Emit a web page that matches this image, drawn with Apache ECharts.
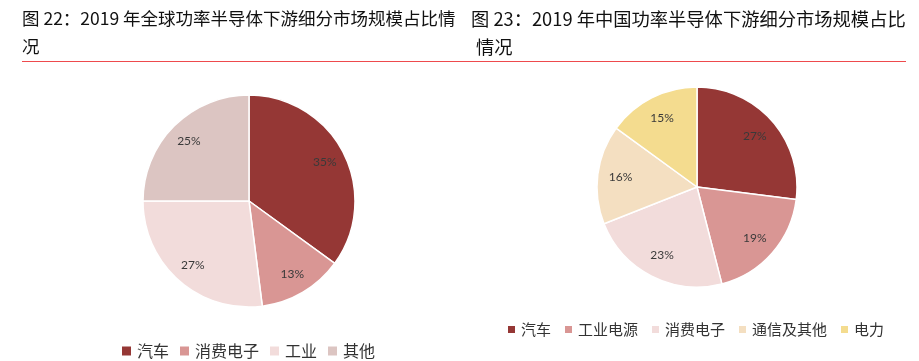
<!DOCTYPE html>
<html><head><meta charset="utf-8">
<script src="https://cdn.jsdelivr.net/npm/echarts@6/dist/echarts.min.js"></script>
<style>html,body{margin:0;padding:0;background:#fff}#c{width:919px;height:361px}</style>
</head><body><div id="c"></div>
<script>
const globalCategories = ['汽车', '消费电子', '工业', '其他'];
const globalValues = [35, 13, 27, 25];
const globalColors = ['#953735', '#d99694', '#f2dcdb', '#dcc5c2'];
const chinaCategories = ['汽车', '工业电源', '消费电子', '通信及其他', '电力'];
const chinaValues = [27, 19, 23, 16, 15];
const chinaColors = ['#953735', '#d99694', '#f2dcdb', '#f4dfc1', '#f4dc8f'];
const title1 = ['图 22：2019 年全球功率半导体下游细分市场规模占比情', '况'];
const title2 = ['图 23：2019 年中国功率半导体下游细分市场规模占比', '情况'];

const FONT = '"Noto Sans CJK SC", sans-serif';
const LFONT = 'Lato, "Open Sans", sans-serif';
const chart = echarts.init(document.getElementById('c'));
function mk(cats, vals, cols) {
  return cats.map((n, i) => ({ name: n, value: vals[i], itemStyle: { color: cols[i] } }));
}
function legendData(cats, cols) {
  return cats.map((n, i) => ({ name: n, itemStyle: { color: cols[i] } }));
}
function piePair(cats, vals, cols, center, r, inner) {
  return [
    { type: 'pie', center: center, radius: [0, r], startAngle: 90, clockwise: true,
      data: mk(cats, vals, cols),
      itemStyle: { borderColor: '#fff', borderWidth: 1.5 },
      label: { show: false }, labelLine: { show: false }, emphasis: { disabled: true } },
    { type: 'pie', center: center, radius: [inner, r], startAngle: 90, clockwise: true,
      data: cats.map((n, i) => ({ name: n + ' ', value: vals[i] })),
      itemStyle: { color: 'rgba(0,0,0,0)' }, silent: true,
      label: { position: 'inside', formatter: '{c}%', fontFamily: LFONT, fontSize: 12, color: '#3a3a3a' },
      labelLine: { show: false }, emphasis: { disabled: true } }
  ];
}
function ts(size) { return { fontFamily: FONT, fontSize: size, fill: '#111', fontWeight: 'normal' }; }
chart.setOption({
  animation: false,
  graphic: [
    { type: 'text', left: 22, top: 10, style: Object.assign({ text: title1[0] }, ts(17.5)) },
    { type: 'text', left: 22, top: 38, style: Object.assign({ text: title1[1] }, ts(17.5)) },
    { type: 'text', left: 471, top: 10, style: Object.assign({ text: title2[0] }, ts(18.3)) },
    { type: 'text', left: 476, top: 38, style: Object.assign({ text: title2[1] }, ts(18.3)) },
    { type: 'line', shape: { x1: 22, y1: 61.5, x2: 906, y2: 61.5 }, style: { stroke: '#ee4a4d', lineWidth: 1 } }
  ],
  legend: [
    { data: legendData(globalCategories, globalColors), left: 120, top: 343, padding: 0,
      itemWidth: 11, itemHeight: 11, itemGap: 9,
      icon: 'rect', textStyle: { fontFamily: FONT, fontSize: 16, color: '#333' } },
    { data: legendData(chinaCategories, chinaColors), left: 506, top: 322, padding: 0,
      itemWidth: 9, itemHeight: 9, itemGap: 12,
      icon: 'rect', textStyle: { fontFamily: FONT, fontSize: 15, color: '#333' } }
  ],
  series: [].concat(
    piePair(globalCategories, globalValues, globalColors, [249, 201], 106, 58),
    piePair(chinaCategories, chinaValues, chinaColors, [697, 187], 100, 48)
  )
});
</script></body></html>
